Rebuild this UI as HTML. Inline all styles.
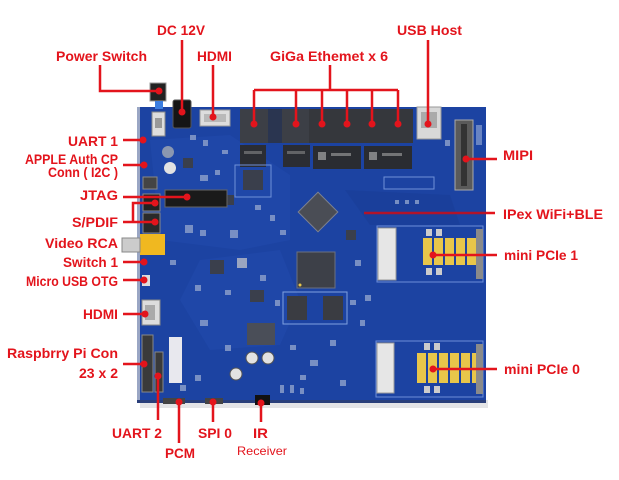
<!DOCTYPE html>
<html><head><meta charset="utf-8"><style>
html,body{margin:0;padding:0;background:#fff;}
svg{display:block;}
.l{font-family:"Liberation Sans",Arial,sans-serif;font-weight:bold;font-size:14px;fill:#e3141c;}
</style></head><body>
<svg width="619" height="480" viewBox="0 0 619 480" xmlns="http://www.w3.org/2000/svg">
<rect width="619" height="480" fill="#fff"/>
<!-- board shadow -->
<rect x="140" y="400" width="348" height="8" fill="#d8d8dc" opacity="0.7"/>
<!-- board -->
<rect x="137" y="107" width="349" height="296" fill="#1c43a2"/>
<rect x="137" y="107" width="3" height="296" fill="#9aa6c4"/>
<rect x="137" y="400" width="349" height="3" fill="#2a3f7a"/>
<!-- lighter copper regions -->
<polygon points="150,140 230,135 290,175 290,240 240,250 160,240" fill="#2149ab" opacity="0.7"/>
<polygon points="200,260 280,250 300,300 280,345 210,350 180,300" fill="#2149ab" opacity="0.7"/>
<polygon points="345,190 450,195 460,225 370,225" fill="#1a3e9a" opacity="0.8"/>
<!-- texture components -->
<g fill="#8fa2cc" opacity="0.8">
<rect x="190" y="135" width="6" height="5"/><rect x="203" y="140" width="5" height="6"/><rect x="222" y="150" width="6" height="4"/>
<rect x="200" y="175" width="8" height="6"/><rect x="215" y="170" width="5" height="5"/><rect x="255" y="205" width="6" height="5"/>
<rect x="270" y="215" width="5" height="6"/><rect x="280" y="230" width="6" height="5"/><rect x="185" y="225" width="8" height="8"/>
<rect x="200" y="230" width="6" height="6"/><rect x="230" y="230" width="8" height="8"/><rect x="170" y="260" width="6" height="5"/>
<rect x="195" y="285" width="6" height="6"/><rect x="225" y="290" width="6" height="5"/><rect x="260" y="275" width="6" height="6"/>
<rect x="275" y="300" width="5" height="6"/><rect x="200" y="320" width="8" height="6"/><rect x="225" y="345" width="6" height="6"/>
<rect x="290" y="345" width="6" height="5"/><rect x="310" y="360" width="8" height="6"/><rect x="330" y="340" width="6" height="6"/>
<rect x="350" y="300" width="6" height="5"/><rect x="360" y="320" width="5" height="6"/><rect x="355" y="260" width="6" height="6"/>
<rect x="300" y="375" width="6" height="5"/><rect x="340" y="380" width="6" height="6"/><rect x="280" y="385" width="4" height="8"/>
<rect x="290" y="385" width="4" height="8"/><rect x="300" y="388" width="4" height="6"/><rect x="180" y="385" width="6" height="6"/>
<rect x="195" y="375" width="6" height="6"/><rect x="445" y="140" width="5" height="6"/><rect x="395" y="200" width="4" height="4"/>
<rect x="405" y="200" width="4" height="4"/><rect x="415" y="200" width="4" height="4"/><rect x="365" y="295" width="6" height="6"/>
</g>
<!-- power switch -->
<rect x="150" y="83" width="16" height="18" fill="#222" stroke="#999" stroke-width="1"/>
<rect x="155" y="101" width="8" height="8" fill="#3b7de0"/>
<rect x="152" y="112" width="13" height="24" fill="#ddd" stroke="#888"/>
<rect x="155" y="118" width="7" height="10" fill="#999"/>
<!-- DC jack -->
<rect x="173" y="100" width="18" height="28" rx="2" fill="#151515" stroke="#555"/>
<!-- HDMI top -->
<rect x="200" y="110" width="30" height="16" fill="#ddd" stroke="#999"/>
<rect x="204" y="114" width="22" height="8" fill="#b9b9b9"/>
<!-- ethernet -->
<rect x="240" y="109" width="28" height="34" fill="#3c3f46"/>
<rect x="282" y="109" width="28" height="34" fill="#3c3f46"/>
<rect x="309" y="109" width="104" height="34" fill="#35373c"/>
<rect x="268" y="109" width="14" height="34" fill="#2a3550"/>
<rect x="240" y="145" width="26" height="22" fill="#2b2d33"/>
<rect x="283" y="145" width="27" height="22" fill="#2b2d33"/>
<rect x="313" y="146" width="48" height="23" fill="#2a2c31"/>
<rect x="364" y="146" width="48" height="23" fill="#2a2c31"/>
<rect x="318" y="152" width="8" height="8" fill="#bbb" opacity="0.6"/>
<rect x="331" y="153" width="20" height="3" fill="#bbb" opacity="0.5"/>
<rect x="369" y="152" width="8" height="8" fill="#bbb" opacity="0.6"/>
<rect x="382" y="153" width="20" height="3" fill="#bbb" opacity="0.5"/>
<rect x="244" y="151" width="18" height="3" fill="#999" opacity="0.5"/>
<rect x="287" y="151" width="18" height="3" fill="#999" opacity="0.5"/>
<!-- USB host -->
<rect x="417" y="107" width="24" height="32" fill="#d8d8d8" stroke="#999"/>
<rect x="421" y="112" width="16" height="16" fill="#aaa"/>
<!-- MIPI -->
<rect x="455" y="120" width="18" height="70" fill="#5a5a5a" stroke="#aaa"/>
<rect x="461" y="124" width="6" height="62" fill="#333"/>
<rect x="476" y="125" width="6" height="20" fill="#8aa0d0" opacity="0.7"/>
<!-- chips -->
<rect x="304" y="198" width="28" height="28" fill="#4a4d55" stroke="#7d8290" transform="rotate(45 318 212)"/>
<rect x="297" y="252" width="38" height="36" fill="#3d4048" stroke="#6a7080"/>
<circle cx="300" cy="285" r="1.5" fill="#e8c64a"/>
<rect x="283" y="292" width="64" height="32" fill="none" stroke="#7fa0e0" stroke-width="1"/>
<rect x="287" y="296" width="20" height="24" fill="#3a3c42"/>
<rect x="323" y="296" width="20" height="24" fill="#3a3c42"/>
<rect x="247" y="323" width="28" height="22" fill="#4a4e58"/>
<rect x="243" y="170" width="20" height="20" fill="#3a3f4c"/>
<rect x="235" y="165" width="36" height="32" fill="none" stroke="#6f90d8" stroke-width="1"/>
<rect x="346" y="230" width="10" height="10" fill="#3a3f4c"/>
<rect x="250" y="290" width="14" height="12" fill="#3a3f4c"/>
<rect x="210" y="260" width="14" height="14" fill="#3a3f4c"/>
<rect x="237" y="258" width="10" height="10" fill="#9aa5c0"/>
<rect x="183" y="158" width="10" height="10" fill="#3a3f4c"/>
<rect x="224" y="195" width="10" height="10" fill="#3a3f4c"/>
<rect x="384" y="177" width="50" height="12" fill="none" stroke="#6f90d8"/>
<!-- capacitors -->
<circle cx="168" cy="152" r="6" fill="#8b97b0"/>
<circle cx="170" cy="168" r="6" fill="#e2e2e2"/>
<circle cx="252" cy="358" r="6" fill="#e2e2e2" stroke="#555"/>
<circle cx="268" cy="358" r="6" fill="#e2e2e2" stroke="#555"/>
<circle cx="236" cy="374" r="6" fill="#e2e2e2" stroke="#555"/>
<!-- mini PCIe 1 -->
<rect x="377" y="226" width="106" height="56" fill="none" stroke="#6d8ed8"/>
<rect x="378" y="228" width="18" height="52" fill="#e6e6e6" stroke="#999"/>
<rect x="423" y="238" width="9" height="27" fill="#e8c64a"/>
<rect x="434" y="238" width="9" height="27" fill="#e8c64a"/>
<rect x="445" y="238" width="9" height="27" fill="#e8c64a"/>
<rect x="456" y="238" width="9" height="27" fill="#e8c64a"/>
<rect x="467" y="238" width="9" height="27" fill="#e8c64a"/>
<rect x="426" y="229" width="6" height="7" fill="#ccc"/>
<rect x="436" y="229" width="6" height="7" fill="#ccc"/>
<rect x="426" y="268" width="6" height="7" fill="#ccc"/>
<rect x="436" y="268" width="6" height="7" fill="#ccc"/>
<rect x="476" y="229" width="7" height="50" fill="#8a8a8a"/>
<!-- mini PCIe 0 -->
<rect x="376" y="341" width="107" height="56" fill="none" stroke="#6d8ed8"/>
<rect x="377" y="343" width="17" height="50" fill="#e6e6e6" stroke="#999"/>
<rect x="417" y="353" width="9" height="30" fill="#e8c64a"/>
<rect x="428" y="353" width="9" height="30" fill="#e8c64a"/>
<rect x="439" y="353" width="9" height="30" fill="#e8c64a"/>
<rect x="450" y="353" width="9" height="30" fill="#e8c64a"/>
<rect x="461" y="353" width="9" height="30" fill="#e8c64a"/>
<rect x="472" y="353" width="4" height="30" fill="#e8c64a"/>
<rect x="424" y="343" width="6" height="7" fill="#ccc"/>
<rect x="434" y="343" width="6" height="7" fill="#ccc"/>
<rect x="424" y="386" width="6" height="7" fill="#ccc"/>
<rect x="434" y="386" width="6" height="7" fill="#ccc"/>
<rect x="476" y="344" width="7" height="50" fill="#8a8a8a"/>
<!-- left side parts -->
<rect x="143" y="177" width="14" height="12" fill="#444" stroke="#888"/>
<rect x="165" y="190" width="62" height="17" fill="#1a1a1a" stroke="#666"/>
<rect x="143" y="194" width="17" height="17" fill="#222" stroke="#888"/>
<rect x="143" y="213" width="17" height="20" fill="#2a2a2a" stroke="#888"/>
<rect x="140" y="234" width="25" height="21" fill="#f0b820"/>
<rect x="122" y="238" width="18" height="14" fill="#ccc" stroke="#888"/>
<rect x="142" y="275" width="8" height="11" fill="#ddd"/>
<rect x="142" y="300" width="18" height="25" fill="#ddd" stroke="#888"/>
<rect x="145" y="305" width="10" height="15" fill="#aaa"/>
<rect x="142" y="335" width="11" height="57" fill="#3a3a3a" stroke="#888"/>
<rect x="155" y="352" width="8" height="40" fill="#3a3a3a" stroke="#888"/>
<rect x="169" y="337" width="13" height="46" fill="#e8e8ee"/>
<rect x="163" y="398" width="22" height="6" fill="#444"/>
<rect x="205" y="398" width="18" height="6" fill="#444"/>
<rect x="255" y="395" width="15" height="10" fill="#111"/>

<!-- connectors -->
<g stroke="#e3141c" stroke-width="2.5" fill="none">
<polyline points="100,65 100,91 159,91"/>
<line x1="182" y1="40" x2="182" y2="112"/>
<line x1="213" y1="65" x2="213" y2="117"/>
<line x1="330" y1="65" x2="330" y2="90"/>
<line x1="254" y1="90" x2="398" y2="90"/>
<line x1="254" y1="90" x2="254" y2="124"/>
<line x1="296" y1="90" x2="296" y2="124"/>
<line x1="322" y1="90" x2="322" y2="124"/>
<line x1="347" y1="90" x2="347" y2="124"/>
<line x1="372" y1="90" x2="372" y2="124"/>
<line x1="398" y1="90" x2="398" y2="124"/>
<line x1="428" y1="40" x2="428" y2="124"/>
<line x1="466" y1="159" x2="497" y2="159"/>
<line x1="433" y1="255" x2="497" y2="255"/>
<line x1="433" y1="369" x2="497" y2="369"/>
<line x1="123" y1="140" x2="143" y2="140"/>
<line x1="123" y1="165" x2="144" y2="165"/>
<line x1="123" y1="197" x2="187" y2="197"/>
<line x1="123" y1="222" x2="155" y2="222"/>
<polyline points="133,222 133,203 155,203"/>
<line x1="123" y1="262" x2="144" y2="262"/>
<line x1="123" y1="280" x2="144" y2="280"/>
<line x1="123" y1="314" x2="145" y2="314"/>
<line x1="123" y1="364" x2="144" y2="364"/>
<line x1="158" y1="376" x2="158" y2="420"/>
<line x1="179" y1="402" x2="179" y2="443"/>
<line x1="213" y1="402" x2="213" y2="422"/>
<line x1="261" y1="403" x2="261" y2="422"/>
</g>
<line x1="364" y1="213" x2="486" y2="213" stroke="#b0142a" stroke-width="2.5"/>
<line x1="486" y1="213" x2="495" y2="213" stroke="#e3141c" stroke-width="2.5"/>
<g fill="#e3141c">
<circle cx="159" cy="91" r="3.5"/>
<circle cx="182" cy="112" r="3.5"/>
<circle cx="213" cy="117" r="3.5"/>
<circle cx="254" cy="124" r="3.5"/>
<circle cx="296" cy="124" r="3.5"/>
<circle cx="322" cy="124" r="3.5"/>
<circle cx="347" cy="124" r="3.5"/>
<circle cx="372" cy="124" r="3.5"/>
<circle cx="398" cy="124" r="3.5"/>
<circle cx="428" cy="124" r="3.5"/>
<circle cx="466" cy="159" r="3.5"/>
<circle cx="433" cy="255" r="3.5"/>
<circle cx="433" cy="369" r="3.5"/>
<circle cx="143" cy="140" r="3.5"/>
<circle cx="144" cy="165" r="3.5"/>
<circle cx="187" cy="197" r="3.5"/>
<circle cx="155" cy="222" r="3.5"/>
<circle cx="155" cy="203" r="3.5"/>
<circle cx="144" cy="262" r="3.5"/>
<circle cx="144" cy="280" r="3.5"/>
<circle cx="145" cy="314" r="3.5"/>
<circle cx="144" cy="364" r="3.5"/>
<circle cx="158" cy="376" r="3.5"/>
<circle cx="179" cy="402" r="3.5"/>
<circle cx="213" cy="402" r="3.5"/>
<circle cx="261" cy="403" r="3.5"/>
</g>

<!-- labels -->
<text class="l" x="157" y="35" textLength="48" lengthAdjust="spacingAndGlyphs">DC 12V</text>
<text class="l" x="56" y="61" textLength="91" lengthAdjust="spacingAndGlyphs">Power Switch</text>
<text class="l" x="197" y="61" textLength="35" lengthAdjust="spacingAndGlyphs">HDMI</text>
<text class="l" x="270" y="61" textLength="118" lengthAdjust="spacingAndGlyphs">GiGa Ethemet x 6</text>
<text class="l" x="397" y="35" textLength="65" lengthAdjust="spacingAndGlyphs">USB Host</text>
<text class="l" x="503" y="160" textLength="30" lengthAdjust="spacingAndGlyphs">MIPI</text>
<text class="l" x="503" y="219" textLength="100" lengthAdjust="spacingAndGlyphs">IPex WiFi+BLE</text>
<text class="l" x="504" y="260" textLength="74" lengthAdjust="spacingAndGlyphs">mini PCIe 1</text>
<text class="l" x="504" y="374" textLength="76" lengthAdjust="spacingAndGlyphs">mini PCIe 0</text>
<text class="l" x="68" y="146" textLength="50" lengthAdjust="spacingAndGlyphs">UART 1</text>
<text class="l" x="25" y="164" textLength="93" lengthAdjust="spacingAndGlyphs">APPLE Auth CP</text>
<text class="l" x="48" y="177" textLength="70" lengthAdjust="spacingAndGlyphs">Conn ( I2C )</text>
<text class="l" x="80" y="200" textLength="38" lengthAdjust="spacingAndGlyphs">JTAG</text>
<text class="l" x="72" y="227" textLength="46" lengthAdjust="spacingAndGlyphs">S/PDIF</text>
<text class="l" x="45" y="248" textLength="73" lengthAdjust="spacingAndGlyphs">Video RCA</text>
<text class="l" x="63" y="267" textLength="55" lengthAdjust="spacingAndGlyphs">Switch 1</text>
<text class="l" x="26" y="286" textLength="92" lengthAdjust="spacingAndGlyphs">Micro USB OTG</text>
<text class="l" x="83" y="319" textLength="35" lengthAdjust="spacingAndGlyphs">HDMI</text>
<text class="l" x="7" y="358" textLength="111" lengthAdjust="spacingAndGlyphs">Raspbrry Pi Con</text>
<text class="l" x="79" y="378" textLength="39" lengthAdjust="spacingAndGlyphs">23 x 2</text>
<text class="l" x="112" y="438" textLength="50" lengthAdjust="spacingAndGlyphs">UART 2</text>
<text class="l" x="165" y="458" textLength="30" lengthAdjust="spacingAndGlyphs">PCM</text>
<text class="l" x="198" y="438" textLength="34" lengthAdjust="spacingAndGlyphs">SPI 0</text>
<text class="l" x="253" y="438" textLength="15" lengthAdjust="spacingAndGlyphs">IR</text>
<text x="237" y="455" textLength="50" lengthAdjust="spacingAndGlyphs" style="font-family:'Liberation Sans',Arial,sans-serif;font-size:12px;fill:#e3141c;">Receiver</text>
</svg>
</body></html>
